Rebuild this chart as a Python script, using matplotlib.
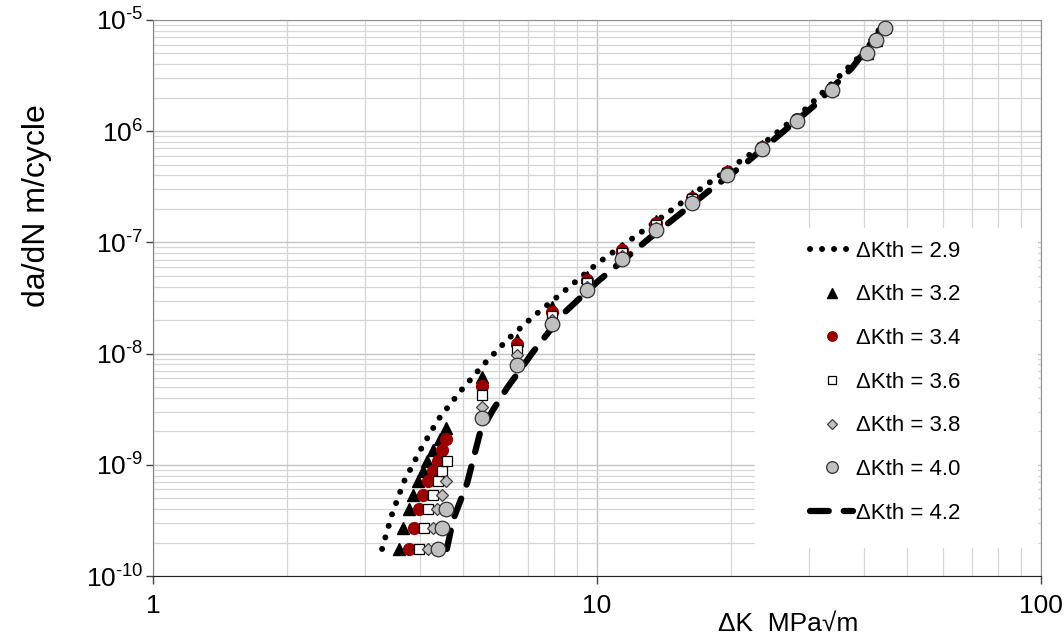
import matplotlib.pyplot as plt
from matplotlib.patches import Rectangle
from matplotlib.ticker import FixedLocator, FixedFormatter, NullFormatter

plt.rcParams['font.family'] = ['Liberation Sans', 'DejaVu Sans']
plt.rcParams['mathtext.fontset'] = 'custom'
plt.rcParams['mathtext.rm'] = 'Liberation Sans'
plt.rcParams['mathtext.it'] = 'Liberation Sans'

# --- data ---
# dKth = 2.9 (dotted curve)
dk_29 = [3.28, 3.45, 3.67, 3.99, 4.38, 4.91, 5.54, 6.30, 7.21, 8.34, 10.05, 12.97, 17.33, 22.34, 29.7, 38.5, 44.5]
da_29 = [1.75e-10, 3.54e-10, 7.0e-10, 1.33e-9, 2.53e-9, 4.52e-9, 7.9e-9, 1.35e-8, 2.18e-8, 3.51e-8,
         6.53e-8, 1.35e-7, 3.15e-7, 6.37e-7, 1.62e-6, 4.46e-6, 9.6e-6]

# dKth = 4.2 (dashed curve)
dk_42 = [4.59, 4.74, 5.10, 5.45, 5.83, 6.27, 7.17, 8.38, 10.0, 13.16, 17.97, 21.77, 30.97, 37.5, 44.5]
da_42 = [1.75e-10, 3.19e-10, 6.86e-10, 1.93e-9, 3.11e-9, 4.9e-9, 1.03e-8, 2.27e-8, 4.4e-8, 1.10e-7,
         2.96e-7, 5.28e-7, 1.72e-6, 3.70e-6, 9.0e-6]

# marker series: low-dK cluster + upper part
rows = [1.75e-10, 2.70e-10, 4.00e-10, 5.35e-10, 7.15e-10, 8.8e-10, 1.08e-9, 1.36e-9, 1.71e-9, 2.14e-9]
dk_up = [5.51, 6.6, 7.92, 9.5, 11.4, 13.6, 16.4, 19.6, 23.5, 28.2, 33.8, 40.6, 42.4, 44.5]

dk_32 = [3.58, 3.66, 3.77, 3.85, 3.95, 4.06, 4.14, 4.27, 4.43, 4.57] + dk_up
da_32 = rows + [6.2e-9, 1.32e-8, 2.6e-8, 4.9e-8, 8.9e-8, 1.55e-7, 2.6e-7, 4.4e-7, 7.35e-7,
                1.3e-6, 2.42e-6, 5.1e-6, 6.65e-6, 8.6e-6]

dk_34 = [3.77, 3.87, 3.97, 4.06, 4.16, 4.27, 4.38, 4.48, 4.57] + dk_up
da_34 = rows[:9] + [5.1e-9, 1.22e-8, 2.37e-8, 4.6e-8, 8.5e-8, 1.49e-7, 2.51e-7, 4.3e-7, 7.2e-7,
                    1.28e-6, 2.4e-6, 5.1e-6, 6.65e-6, 8.55e-6]

dk_36 = [3.97, 4.08, 4.16, 4.27, 4.38, 4.48, 4.59] + dk_up
da_36 = rows[:7] + [4.2e-9, 1.08e-8, 2.2e-8, 4.3e-8, 8.1e-8, 1.43e-7, 2.45e-7, 4.2e-7, 7.1e-7,
                    1.27e-6, 2.38e-6, 5.08e-6, 6.62e-6, 8.5e-6]

dk_38 = [4.16, 4.27, 4.36, 4.48, 4.57] + dk_up
da_38 = rows[:5] + [3.3e-9, 9.7e-9, 2.0e-8, 4.0e-8, 7.6e-8, 1.36e-7, 2.35e-7, 4.1e-7, 7.0e-7,
                    1.25e-6, 2.36e-6, 5.06e-6, 6.6e-6, 8.5e-6]

dk_40 = [4.38, 4.48, 4.57] + dk_up
da_40 = rows[:3] + [2.64e-9, 7.9e-9, 1.85e-8, 3.7e-8, 7.1e-8, 1.29e-7, 2.26e-7, 4.0e-7, 6.9e-7,
                    1.24e-6, 2.35e-6, 5.05e-6, 6.6e-6, 8.5e-6]

x_ticks = [1, 10, 100]
x_labels = ['1', '10', '100']
y_ticks = [1e-10, 1e-9, 1e-8, 1e-7, 1e-6, 1e-5]
y_labels = [r'$10^{\text{-10}}$', r'$10^{\text{-9}}$', r'$10^{\text{-8}}$',
            r'$10^{\text{-7}}$', r'$10^{\text{6}}$', r'$10^{\text{-5}}$']

fig = plt.figure(figsize=(10.64, 6.41), dpi=100)
ax = fig.add_axes([0.1438, 0.1014, 0.8346, 0.8674])
ax.set_xscale('log')
ax.set_yscale('log')
ax.set_xlim(1, 100)
ax.set_ylim(1e-10, 1e-5)

ax.set_axisbelow(True)
ax.grid(True, which='major', color='#c4c4c4', lw=1.0)
ax.grid(True, which='minor', color='#d6d6d6', lw=0.9)

# white box behind legend
ax.add_patch(Rectangle((0.678, 0.05), 0.319, 0.576, transform=ax.transAxes,
                       facecolor='white', edgecolor='none', zorder=1.5))

l29, = ax.plot(dk_29, da_29, color='black', lw=4.3, ls=(0, (0.01, 2.0)),
               dash_capstyle='round', zorder=2, label='ΔKth = 2.9')
l42, = ax.plot(dk_42, da_42, color='black', lw=4.5, ls=(0, (3.0, 2.4)),
               dash_capstyle='round', zorder=2, label='ΔKth = 4.2')

m32, = ax.plot(dk_32, da_32, ls='none', marker='^', ms=8.5, mfc='black', mec='black',
               zorder=3, label='ΔKth = 3.2')
m34, = ax.plot(dk_34, da_34, ls='none', marker='o', ms=8.5, mfc='#9b0000', mec='#9b0000',
               zorder=3, label='ΔKth = 3.4')
m36, = ax.plot(dk_36, da_36, ls='none', marker='s', ms=7.5, mfc='white', mec='black', mew=0.9,
               zorder=3, label='ΔKth = 3.6')
m38, = ax.plot(dk_38, da_38, ls='none', marker='D', ms=6.5, mfc='#c0c0c0', mec='#404040', mew=0.9,
               zorder=3, label='ΔKth = 3.8')
m40, = ax.plot(dk_40, da_40, ls='none', marker='o', ms=10.5, mfc='#c0c0c0', mec='#303030', mew=0.9,
               zorder=3, label='ΔKth = 4.0')

leg = ax.legend(handles=[l29, m32, m34, m36, m38, m40, l42], loc='upper left',
                bbox_to_anchor=(0.740, 0.603), frameon=False, fontsize=16,
                handlelength=1.95, handletextpad=0.1, labelspacing=1.02,
                borderpad=0, borderaxespad=0, markerscale=0.8)
leg.set_zorder(4)

ax.xaxis.set_major_locator(FixedLocator(x_ticks))
ax.xaxis.set_major_formatter(FixedFormatter(x_labels))
ax.xaxis.set_minor_formatter(NullFormatter())
ax.yaxis.set_major_locator(FixedLocator(y_ticks))
ax.yaxis.set_major_formatter(FixedFormatter(y_labels))
ax.yaxis.set_minor_formatter(NullFormatter())
ax.tick_params(which='major', direction='out', length=6, width=1, color='#404040',
               labelsize=19)
ax.tick_params(axis='x', pad=7)
ax.tick_params(axis='y', length=5, pad=2)
ax.tick_params(which='minor', length=0)

for s in ['top', 'right']:
    ax.spines[s].set_color('#909090')
ax.spines['left'].set_color('#808080')
ax.spines['bottom'].set_color('#202020')

ax.set_xlabel('ΔK  MPa√m', fontsize=19)
ax.xaxis.set_label_coords(0.715, -0.064)
ax.set_ylabel('da/dN m/cycle', fontsize=23)
ax.yaxis.set_label_coords(-0.114, 0.667)

fig.savefig('out.png', dpi=100)
